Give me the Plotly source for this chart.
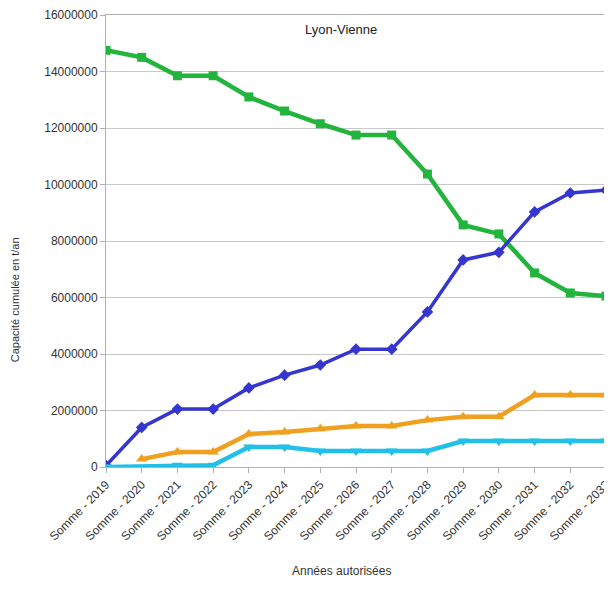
import plotly.graph_objects as go

# Données
annees = ["Somme - %d" % a for a in range(2019, 2034)]
vert = [14750000, 14500000, 13850000, 13850000, 13100000, 12600000, 12150000, 11750000,
        11750000, 10370000, 8570000, 8250000, 6870000, 6160000, 6050000]
bleu = [50000, 1400000, 2050000, 2050000, 2800000, 3250000, 3610000, 4170000,
        4170000, 5490000, 7330000, 7600000, 9030000, 9700000, 9800000]
orange = [None, 280000, 530000, 530000, 1170000, 1240000, 1350000, 1450000,
          1450000, 1660000, 1780000, 1780000, 2550000, 2550000, 2550000]
cyan = [0, None, 60000, 60000, 710000, 710000, 570000, 570000,
        570000, 570000, 920000, 920000, 920000, 920000, 920000]

fig = go.Figure()

series = [
    (vert, "#22b43c", "square", 9, 4.5),
    (bleu, "#3535d0", "diamond", 9, 3.5),
    (orange, "#f0a020", "triangle-up", 10, 4.5),
    (cyan, "#22c0e8", "triangle-down", 10, 4.5),
]
for vals, col, sym, ms, lw in series:
    fig.add_trace(go.Scatter(
        x=annees, y=vals, mode="lines+markers", connectgaps=True,
        line=dict(color=col, width=lw),
        marker=dict(color=col, symbol=sym, size=ms),
        showlegend=False,
    ))

# la page a une marge de 8 px : figure plus petite que la fenêtre
fig.update_layout(
    width=598, height=573,
    margin=dict(l=98, r=0, t=7, b=114),
    paper_bgcolor="white", plot_bgcolor="white",
    font=dict(family="Liberation Sans, Arial, sans-serif", size=12, color="#333333"),
    annotations=[
        dict(text="Lyon-Vienne", x=0.47, y=0.99, xref="paper", yref="paper",
             xanchor="center", yanchor="top", showarrow=False,
             font=dict(size=13, color="#222222")),
        dict(text="Capacité cumulée en t/an", x=-0.182, y=0.369, xref="paper", yref="paper",
             xanchor="center", yanchor="middle", showarrow=False, textangle=-90,
             font=dict(size=11, color="#333333")),
        dict(text="Années autorisées", x=0.47, y=0, xref="paper", yref="paper",
             xanchor="center", yanchor="middle", yshift=-104, showarrow=False,
             font=dict(size=12, color="#333333")),
    ],
)
fig.update_xaxes(
    tickangle=-45, tickfont=dict(size=12), automargin=False,
    showgrid=False, showline=True, linecolor="#b0b0b0", mirror=True,
    ticks="outside", ticklen=5, tickcolor="#b0b0b0",
    range=[0, 14],
)
fig.update_yaxes(
    range=[0, 16000000], dtick=2000000, tickformat="d", automargin=False,
    tickfont=dict(size=12),
    showgrid=True, gridcolor="#c8c8c8", zeroline=False,
    showline=True, linecolor="#b0b0b0", mirror=True,
    ticks="outside", ticklen=5, tickcolor="#b0b0b0",
)

fig.write_html("out.html")
